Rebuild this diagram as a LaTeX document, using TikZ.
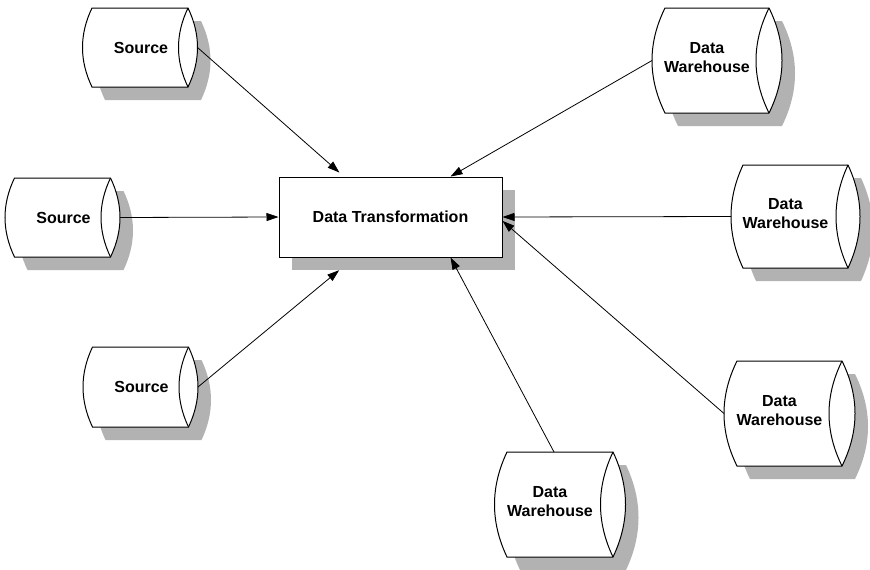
\documentclass[tikz,border=0pt]{standalone}
\usepackage{fontspec}
\setmainfont{Liberation Sans}
\usetikzlibrary{arrows.meta,calc,positioning}

\tikzset{
	drumline/.style={line width=1pt, fill=white},
	dropshadow/.style={fill=black!30, draw=none},
	labeltext/.style={font=\bfseries\fontsize{16}{19}\selectfont, align=center, inner sep=0pt},
	feed/.style={-{Triangle[length=12pt,width=8pt]}, line width=0.8pt},
}

% liegender Speicher: Name, Mitte x, Mitte y, Breite, Hoehe, Woelbung, Text, Textversatz
\newcommand{\drum}[8]{%
	\pgfmathsetmacro{\dl}{#2-#4/2}
	\pgfmathsetmacro{\dr}{#2+#4/2}
	\pgfmathsetmacro{\dt}{#3+#5/2}
	\pgfmathsetmacro{\db}{#3-#5/2}
	\pgfmathsetmacro{\du}{#3+#5/6}
	\pgfmathsetmacro{\dd}{#3-#5/6}
	\pgfmathsetmacro{\dk}{4*#6/3}
	\fill[dropshadow, shift={(13,-13)}] (\dr,\dt) -- (\dl,\dt)
		.. controls (\dl-\dk,\du) and (\dl-\dk,\dd) .. (\dl,\db) -- (\dr,\db)
		.. controls (\dr+\dk,\dd) and (\dr+\dk,\du) .. (\dr,\dt) -- cycle;
	\draw[drumline] (\dr,\dt) -- (\dl,\dt)
		.. controls (\dl-\dk,\du) and (\dl-\dk,\dd) .. (\dl,\db) -- (\dr,\db)
		.. controls (\dr+\dk,\dd) and (\dr+\dk,\du) .. (\dr,\dt) -- cycle;
	\draw[line width=1pt] (\dr,\dt) .. controls (\dr-\dk,\du) and (\dr-\dk,\dd) .. (\dr,\db);
	\node[minimum width={#4+2*#6}, minimum height=#5, inner sep=0pt, outer sep=0pt] (#1) at (#2,#3) {};
	\node[labeltext] (#1-text) at ($(#1.center)+#8$) {#7};
}

\begin{document}
\begin{tikzpicture}[x=1pt, y=1pt]
	\useasboundingbox (0,0) rectangle (870,-570);

	% Quellen
	\drum{src1}{140}{-47.5}{96}{79}{9.5}{Source}{(1,0)}
	\drum{src2}{62.5}{-217.5}{96}{79}{9.5}{Source}{(1,0)}
	\drum{src3}{140.5}{-387}{96}{80}{9.5}{Source}{(1,0)}

	% Data Warehouses
	\drum{dw1}{717}{-60.5}{104}{105}{13}{Data\\Warehouse}{(-10,3)}
	\drum{dw2}{795.5}{-216.5}{105}{103}{12}{Data\\Warehouse}{(-10,3)}
	\drum{dw3}{789.5}{-413.5}{105}{105}{13}{Data\\Warehouse}{(-10,3)}
	\drum{dw4}{560}{-504.5}{106}{105}{12.5}{Data\\Warehouse}{(-10,3)}

	% Transformation
	\node[dropshadow, minimum width=223, minimum height=80] (transshadow) at (403.5,-230) {};
	\node[draw, fill=white, line width=1pt, minimum width=223, minimum height=80, labeltext] (trans) at (390.5,-217) {Data Transformation};

	% Pfeile
	\draw[feed, shorten >=6pt] (src1.east) -- (trans.139);
	\draw[feed] (src2.east) -- (trans.west);
	\draw[feed] (src3.east) -- (transshadow.212);
	\draw[feed] (dw1.west) -- (trans.34);
	\draw[feed] (dw2.west) -- (trans.east);
	\draw[feed] (dw3.west) -- (trans.-2);
	\draw[feed] ([xshift=-6pt]dw4.north) -- (trans.-34);
\end{tikzpicture}
\end{document}
